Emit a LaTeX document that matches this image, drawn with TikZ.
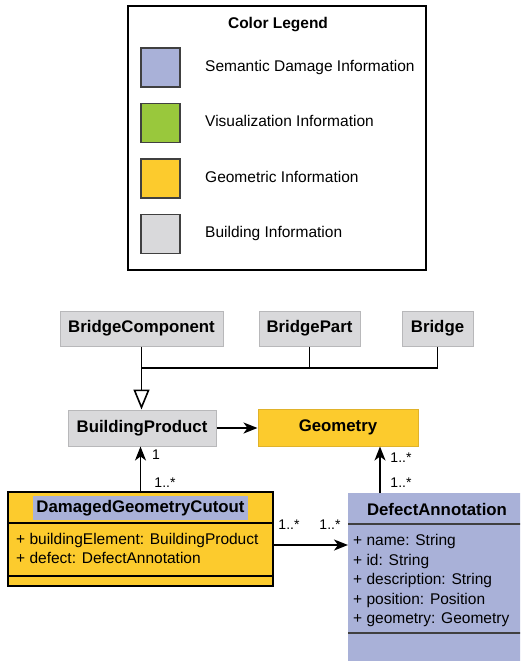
\documentclass[tikz,border=0pt]{standalone}
\usepackage{fontspec}
\setmainfont{Liberation Sans}
\usetikzlibrary{arrows.meta,calc}
\definecolor{semblue}{HTML}{A9B1D8}
\definecolor{visgreen}{HTML}{99C83C}
\definecolor{geoyellow}{HTML}{FCCB2D}
\definecolor{geoedge}{HTML}{E0B22A}
\definecolor{bldgray}{HTML}{D9D9DB}
\definecolor{bldedge}{HTML}{B8B8BA}

\begin{document}
\begin{tikzpicture}[x=1pt,y=-1pt,
  txt/.style={font=\fontsize{15.5}{18}\selectfont,inner sep=0pt,text height=11pt,text depth=3.5pt},
  ttl/.style={font=\bfseries\fontsize{16.8}{20}\selectfont,inner sep=0pt},
  mult/.style={font=\fontsize{14}{16}\selectfont,inner sep=0pt},
  swatch/.style={draw=black!75,line width=1.3pt,minimum width=39pt,minimum height=39pt,inner sep=0pt},
  gbox/.style={ttl,draw=bldedge,fill=bldgray,line width=1pt,minimum height=35pt},
  assoc/.style={line width=1.6pt,-{Stealth[length=14pt,width=11pt,inset=4pt]}}]
\useasboundingbox (0,0) rectangle (520,661);
\clip (0,0) rectangle (520,661);

\node[draw,line width=1.4pt,minimum width=298pt,minimum height=264pt] (legend) at (277,138) {};
\node[ttl,font=\bfseries\fontsize{15.5}{18}\selectfont] (legtitle) at (278,25) {Color Legend};
\foreach \col/\txt [count=\i] in {semblue/Semantic Damage Information,visgreen/Visualization Information,geoyellow/Geometric Information,bldgray/Building Information}{
  \node[swatch,fill=\col] (sw\i) at (160.5,12+55.5*\i) {};
  \node[txt,anchor=west] (lt\i) at (205,12+55.5*\i) {\txt};
}

\node[gbox,minimum width=163pt] (comp) at (141.5,328.5) {BridgeComponent};
\node[gbox,minimum width=101pt] (part) at (309.5,328.5) {BridgePart};
\node[gbox,minimum width=71pt] (bridge) at (437.5,328.5) {Bridge};
\node[gbox,minimum width=148pt,minimum height=36pt] (bprod) at (142,428) {BuildingProduct};
\node[ttl,draw=geoedge,fill=geoyellow,line width=1pt,minimum width=160pt,minimum height=37pt] (geom) at (338,427.5) {Geometry};

\coordinate (join) at (141.5,368);
\draw[line width=1.6pt] (part.south) -- (part.south |- join);
\draw[line width=1.6pt] (bridge.south) |- (join);
\draw[line width=1.6pt,-{Triangle[open,length=20pt,width=16pt,fill=white]}] (comp.south) -- (comp.south |- bprod.north);
\draw[assoc] (bprod.east) -- (bprod.east -| geom.west);

\node[draw,line width=1.8pt,fill=geoyellow,minimum width=265pt,minimum height=94pt] (dgc) at (140.5,539) {};
\draw[line width=1.6pt] ([yshift=-32pt]dgc.north west) -- ([yshift=-32pt]dgc.north east);
\draw[line width=1.6pt] ([yshift=11pt]dgc.south west) -- ([yshift=11pt]dgc.south east);
\node[ttl,fill=semblue,minimum width=215pt,minimum height=24pt] (dgcname) at (140.5,508) {DamagedGeometryCutout};
\node[txt,anchor=west] (dgcA1) at (16,541) {+ buildingElement: BuildingProduct};
\node[txt,anchor=west] (dgcA2) at (16,560) {+ defect: DefectAnnotation};

\node[fill=semblue,minimum width=178pt,minimum height=190pt,anchor=north west,inner sep=0pt] (defect) at (348,493) {};
\draw[line width=1.4pt,black!75] ([yshift=-31pt]defect.north west) -- ([yshift=-31pt]defect.north east);
\draw[line width=1.4pt,black!75] ([yshift=-140pt]defect.north west) -- ([yshift=-140pt]defect.north east);
\node[ttl] (defname) at (437,509) {DefectAnnotation};
\foreach \a [count=\i] in {name: String,id: String,description: String,position: Position,geometry: Geometry}
  \node[txt,anchor=west] (defA\i) at (353,522.5+19.5*\i) {+ \a};

\draw[assoc] (dgc.north) -- (dgc.north |- bprod.south);
\draw[assoc] ([yshift=-6pt]dgc.east) -- ([yshift=-6pt]dgc.east -| defect.west);
\draw[assoc] (defect.north -| 380,0) -- (geom.south -| 380,0);

\node[mult] (m1) at (156,455) {1};
\node[mult] (m2) at (165,483) {1..*};
\node[mult] (m3) at (289,525) {1..*};
\node[mult] (m4) at (330,525) {1..*};
\node[mult] (m5) at (401,458) {1..*};
\node[mult] (m6) at (401,483) {1..*};
\end{tikzpicture}
\end{document}
